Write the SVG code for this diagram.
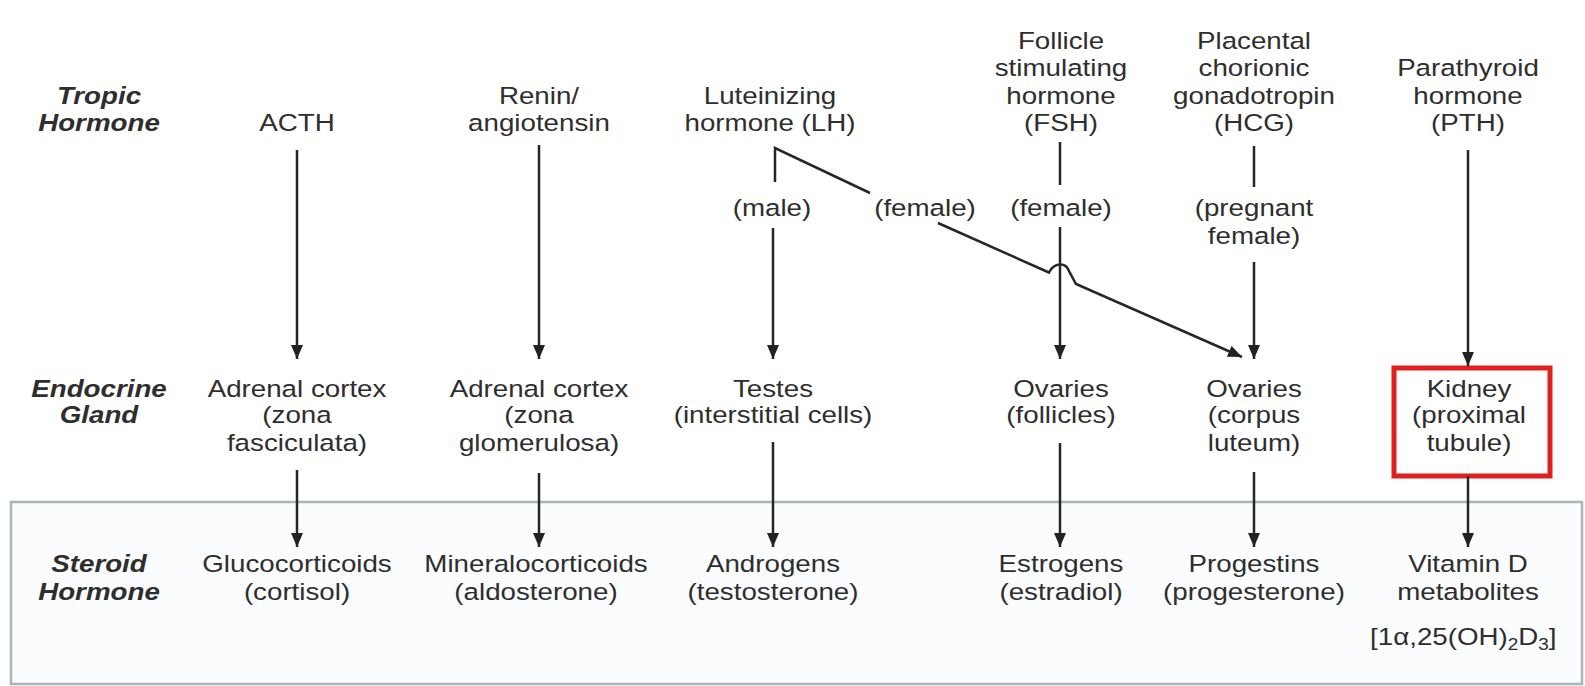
<svg xmlns="http://www.w3.org/2000/svg" width="1585" height="686" viewBox="0 0 1585 686">
<defs>
<marker id="ah" viewBox="0 0 14 12" refX="14" refY="6" markerWidth="14" markerHeight="12" markerUnits="userSpaceOnUse" orient="auto">
<path d="M0,0 L14,6 L0,12 Z" fill="#222"/>
</marker>
<style>
text{font-family:"Liberation Sans",Arial,sans-serif;font-size:23.5px;fill:#2e2e2e;text-anchor:middle}
.lab{font-weight:bold;font-style:italic}
.c{fill:none;stroke:#262626;stroke-width:2.5}
.a{marker-end:url(#ah)}
.sub{font-size:16px}
</style>
</defs>
<rect width="1585" height="686" fill="#ffffff"/>
<rect id="steroid-band" x="11" y="502" width="1571" height="182" fill="#fafcfd" stroke="#a9b5b9" stroke-width="2.5"/>

<g id="row-labels">
<g id="lab-tropic" transform="translate(99,0) scale(1.18,1)"><text class="lab" x="0" y="104">Tropic</text><text class="lab" x="0" y="131.5">Hormone</text></g>
<g id="lab-gland" transform="translate(99,0) scale(1.18,1)"><text class="lab" x="0" y="397">Endocrine</text><text class="lab" x="0" y="423.5">Gland</text></g>
<g id="lab-steroid" transform="translate(99,0) scale(1.18,1)"><text class="lab" x="0" y="572">Steroid</text><text class="lab" x="0" y="600">Hormone</text></g>
</g>

<g id="acth" transform="translate(297,0) scale(1.18,1)"><text x="0" y="131.5">ACTH</text></g>
<g id="renin" transform="translate(539,0) scale(1.18,1)"><text x="0" y="104">Renin/</text><text x="0" y="131.5">angiotensin</text></g>
<g id="lh" transform="translate(770,0) scale(1.18,1)"><text x="0" y="104">Luteinizing</text><text x="0" y="131.5">hormone (LH)</text></g>
<g id="fsh" transform="translate(1061,0) scale(1.18,1)"><text x="0" y="49">Follicle</text><text x="0" y="76.5">stimulating</text><text x="0" y="104">hormone</text><text x="0" y="131.5">(FSH)</text></g>
<g id="hcg" transform="translate(1254,0) scale(1.18,1)"><text x="0" y="49">Placental</text><text x="0" y="76.5">chorionic</text><text x="0" y="104">gonadotropin</text><text x="0" y="131.5">(HCG)</text></g>
<g id="pth" transform="translate(1468,0) scale(1.18,1)"><text x="0" y="76.5">Parathyroid</text><text x="0" y="104">hormone</text><text x="0" y="131.5">(PTH)</text></g>

<g id="cond-male" transform="translate(772,0) scale(1.18,1)"><text x="0" y="216">(male)</text></g>
<g id="cond-female-lh" transform="translate(925,0) scale(1.18,1)"><text x="0" y="216">(female)</text></g>
<g id="cond-female-fsh" transform="translate(1061,0) scale(1.18,1)"><text x="0" y="216">(female)</text></g>
<g id="cond-pregnant" transform="translate(1254,0) scale(1.18,1)"><text x="0" y="216">(pregnant</text><text x="0" y="244">female)</text></g>

<g id="adrenal-fasc" transform="translate(297,0) scale(1.18,1)"><text x="0" y="397">Adrenal cortex</text><text x="0" y="423.5">(zona</text><text x="0" y="451.5">fasciculata)</text></g>
<g id="adrenal-glom" transform="translate(539,0) scale(1.18,1)"><text x="0" y="397">Adrenal cortex</text><text x="0" y="423.5">(zona</text><text x="0" y="451.5">glomerulosa)</text></g>
<g id="testes" transform="translate(773,0) scale(1.18,1)"><text x="0" y="397">Testes</text><text x="0" y="423.5">(interstitial cells)</text></g>
<g id="ovaries-foll" transform="translate(1061,0) scale(1.18,1)"><text x="0" y="397">Ovaries</text><text x="0" y="423.5">(follicles)</text></g>
<g id="ovaries-cl" transform="translate(1254,0) scale(1.18,1)"><text x="0" y="397">Ovaries</text><text x="0" y="423.5">(corpus</text><text x="0" y="451.5">luteum)</text></g>
<g id="kidney"><rect x="1394" y="368" width="156" height="108" fill="#ffffff" stroke="#e0201e" stroke-width="5"/><g transform="translate(1469,0) scale(1.18,1)"><text x="0" y="397">Kidney</text><text x="0" y="423.5">(proximal</text><text x="0" y="451.5">tubule)</text></g></g>

<g id="gluco" transform="translate(297,0) scale(1.18,1)"><text x="0" y="572">Glucocorticoids</text><text x="0" y="600">(cortisol)</text></g>
<g id="mineralo" transform="translate(536,0) scale(1.18,1)"><text x="0" y="572">Mineralocorticoids</text><text x="0" y="600">(aldosterone)</text></g>
<g id="androgens" transform="translate(773,0) scale(1.18,1)"><text x="0" y="572">Androgens</text><text x="0" y="600">(testosterone)</text></g>
<g id="estrogens" transform="translate(1061,0) scale(1.18,1)"><text x="0" y="572">Estrogens</text><text x="0" y="600">(estradiol)</text></g>
<g id="progestins" transform="translate(1254,0) scale(1.18,1)"><text x="0" y="572">Progestins</text><text x="0" y="600">(progesterone)</text></g>
<g id="vitd" transform="translate(1468,0) scale(1.18,1)"><text x="0" y="572">Vitamin D</text><text x="0" y="600">metabolites</text><text x="-4" y="645">[1α,25(OH)<tspan class="sub" dy="5">2</tspan><tspan dy="-5">D</tspan><tspan class="sub" dy="5">3</tspan><tspan dy="-5">]</tspan></text></g>

<g id="connectors">
<path class="c a" d="M297,150 V359"/>
<path class="c a" d="M539,145 V359"/>
<path class="c" d="M775,182 V148 L870,193"/>
<path class="c a" d="M773,228 V359"/>
<path class="c a" d="M938,223 L1049,272.5 C1054,262 1066,262 1069,271 L1076,284 L1242,357"/>
<path class="c" d="M1060,142 V185"/>
<path class="c a" d="M1060,227 V359"/>
<path class="c" d="M1254,146 V187"/>
<path class="c a" d="M1254,262 V359"/>
<path class="c a" d="M1468,150 V366"/>
<path class="c a" d="M297,470 V547"/>
<path class="c a" d="M539,473 V547"/>
<path class="c a" d="M773,442 V547"/>
<path class="c a" d="M1060,443 V547"/>
<path class="c a" d="M1254,472 V547"/>
<path class="c a" d="M1468,476 V547"/>
</g>
</svg>
